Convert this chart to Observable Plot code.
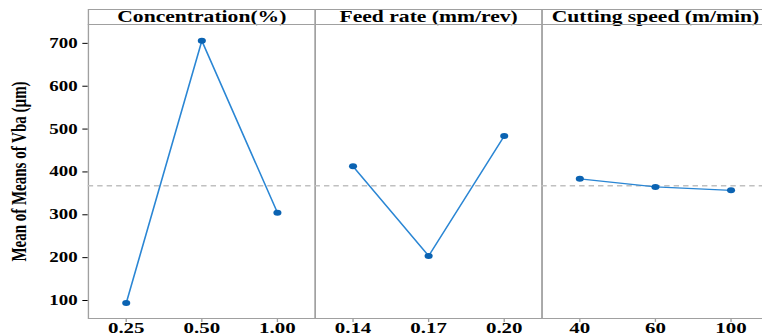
<!DOCTYPE html>
<html>
<head>
<meta charset="utf-8">
<script src="https://cdn.jsdelivr.net/npm/d3@7"></script>
<script src="https://cdn.jsdelivr.net/npm/@observablehq/plot@0.6"></script>
<style>
  html, body { margin: 0; padding: 0; background: white; overflow: hidden; }
  #chart { width: 762px; height: 336px; overflow: hidden; }
  #chart svg { transform: scaleX(1.35); transform-origin: 0 0; }
  #chart svg text { font-family: "Liberation Serif", "Times New Roman", serif; font-weight: bold; fill: #000; }
  #chart [aria-label^="y-axis"] text { font-size: 14px; }
  #chart [aria-label="y-axis label"] text, #chart [aria-label^="y-axis"] .label, #chart text[aria-label="y-axis label"] { font-size: 15px; }
  #chart [aria-label^="fx-axis"] text { font-size: 16px; }
  #chart .xtick text { font-size: 15.5px; }
</style>
</head>
<body>
<div id="chart"></div>
<script>
const factors = ["Concentration(%)", "Feed rate (mm/rev)", "Cutting speed (m/min)"];
const concLevels = ["0.25", "0.50", "1.00"];
const concMeans = [94, 706, 305];
const feedLevels = ["0.14", "0.17", "0.20"];
const feedMeans = [413, 204, 484];
const speedLevels = ["40", "60", "100"];
const speedMeans = [384, 365, 357];
const yTicks = [100, 200, 300, 400, 500, 600, 700];
const yDomain = [58, 744];
const yLabel = "Mean of Means of Vba (µm)";

const levelSets = [concLevels, feedLevels, speedLevels];
const meanSets = [concMeans, feedMeans, speedMeans];
const rows = [];
factors.forEach((f, fi) => {
  levelSets[fi].forEach((lv, i) => {
    rows.push({factor: f, idx: i, level: lv, value: meanSets[fi][i]});
  });
});
const grandMean = d3.mean(rows, d => d.value);

const gray = "#a0a0a0";
const plot = Plot.plot({
  width: 569,
  height: 336,
  marginLeft: 65,
  marginRight: 0,
  marginTop: 24,
  marginBottom: 18,
  style: {background: "white", fontFamily: "Liberation Serif, serif", fontWeight: "bold"},
  facet: {data: rows, x: "factor", label: null},
  fx: {domain: factors, padding: 0, axis: "top", tickSize: 0, tickPadding: 3, label: null},
  x: {type: "point", domain: [0, 1, 2], padding: 0.5, axis: null},
  y: {domain: yDomain, ticks: yTicks, tickSize: 4, tickPadding: 4, label: yLabel,
      labelArrow: "none", labelAnchor: "center", labelOffset: 57, tickFormat: d => String(d)},
  marks: [
    Plot.frame({stroke: gray, insetTop: -15}),
    Plot.ruleY([yDomain[1]], {stroke: gray}),
    Plot.ruleY([grandMean], {stroke: "#c0c0c0", strokeWidth: 1.5, strokeDasharray: "4,3"}),
    Plot.ruleX(rows, {x: "idx", y1: yDomain[0], y2: yDomain[0], insetBottom: -4, stroke: gray}),
    Plot.text(rows, {x: "idx", text: "level", frameAnchor: "bottom", lineAnchor: "top", dy: 3, fontSize: 15.5, fontWeight: "bold", fill: "#000", className: "xtick"}),
    Plot.line(rows, {x: "idx", y: "value", stroke: "#2a86d4", strokeWidth: 1.2}),
    Plot.dot(rows, {x: "idx", y: "value", r: 3, fill: "#0b63b2", stroke: "none"})
  ]
});
// Older builds ignore labelArrow: strip any arrow glyph Plot appended to the label
plot.querySelectorAll("text, tspan").forEach(t => {
  if (t.childElementCount === 0 && t.textContent.includes(yLabel)) t.textContent = yLabel;
});
document.getElementById("chart").appendChild(plot);
</script>
</body>
</html>
